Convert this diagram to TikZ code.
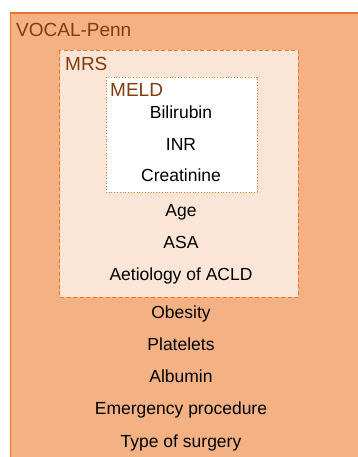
\documentclass[tikz,border=0pt]{standalone}
\usepackage{fontspec}
\setmainfont{Liberation Sans}
\usetikzlibrary{positioning}
\definecolor{pennfill}{HTML}{F4B183}
\definecolor{pennline}{HTML}{E6782E}
\definecolor{mrsfill}{HTML}{FBE5D6}
\definecolor{labelbrown}{HTML}{843C0C}
\tikzset{
item/.style={font=\fontsize{17.5}{20}\selectfont, inner sep=0pt, text height=13pt, text depth=4pt}, % one risk factor
boxlabel/.style={anchor=base west, text=labelbrown, inner sep=0pt, font=\fontsize{19}{22}\selectfont}, % name of a score
node distance=31.8pt, % gap between two risk factors
}

\begin{document}
\begin{tikzpicture}[x=1pt,y=-1pt]
  \useasboundingbox (0,0) rectangle (358,457);
  \clip (0,0) rectangle (358,457);

  % the three nested scores
  \filldraw[fill=pennfill, draw=pennline, line width=1.2pt] (10.5,13) rectangle (380,480);
  \filldraw[fill=mrsfill, draw=pennline, dash pattern=on 4pt off 2.5pt, line width=1pt] (59.5,50.5) rectangle (298,297);
  \filldraw[fill=white, draw=pennline, dotted, line width=0.8pt] (106,77) rectangle (257,192);

  \node[boxlabel] (vocal) at (16,37) {VOCAL-Penn};
  \node[boxlabel] (mrs) at (65,71) {MRS};
  \node[boxlabel] (meld) at (110,97) {MELD};

  \node[item] (bili) at (181,113.8) {Bilirubin};
  \node[item, below of=bili] (inr) {INR};
  \node[item, below of=inr] (creat) {Creatinine};
  \node[item, below of=creat, node distance=35pt] (age) {Age};
  \node[item, below of=age] (asa) {ASA};
  \node[item, below of=asa] (aet) {Aetiology of ACLD};
  \node[item, below of=aet, node distance=38.3pt] (obes) {Obesity};
  \node[item, below of=obes] (plat) {Platelets};
  \node[item, below of=plat] (alb) {Albumin};
  \node[item, below of=alb, node distance=32.3pt] (emerg) {Emergency procedure};
  \node[item, below of=emerg, node distance=32.4pt] (surg) {Type of surgery};

\end{tikzpicture}
\end{document}
